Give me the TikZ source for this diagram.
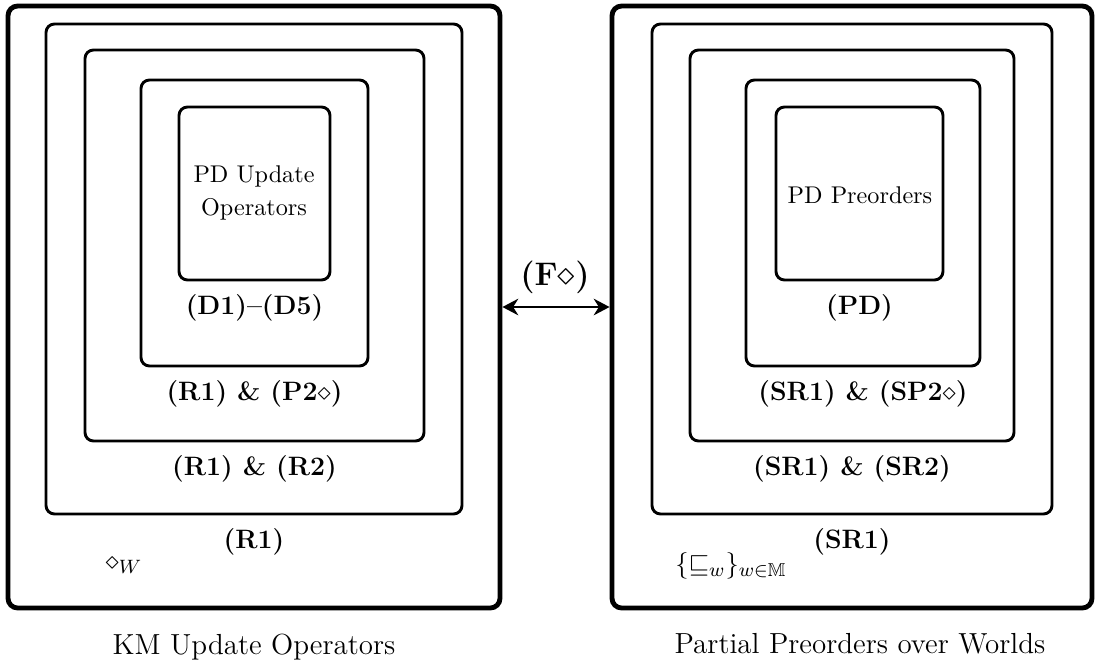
\documentclass[tikz,border=0pt]{standalone}
\usepackage{amsmath,amssymb}
\usetikzlibrary{arrows.meta,fit,positioning}

\begin{document}
\begin{tikzpicture}[x=0.01452cm, y=-0.01452cm, >={Stealth[length=2.3mm,width=2.4mm]},
  outerbox/.style={draw, line width=2pt, rounded corners=4pt, inner sep=0pt},
  innerbox/.style={draw, line width=1.2pt, rounded corners=3.5pt, inner sep=0pt},
  cond/.style={font=\fontsize{11}{13}\selectfont\bfseries},
  title/.style={font=\large, anchor=base}]
  \useasboundingbox (0,0) rectangle (1099,664);
  % KM-Operatoren (links)
  \node[outerbox, fit={(8,6) (500,608)}] (km) {};
  \node[innerbox, fit={(46,24) (462,514)}] (kmtwo) {};
  \node[innerbox, fit={(85,50) (424,441)}] (kmthree) {};
  \node[innerbox, fit={(141,80) (368,366)}] (kmfour) {};
  \node[innerbox, fit={(179,107) (330,280)}] (kmfive) {};
  \node[align=center] (pdop) at (254,193) {PD Update\\[2pt]Operators};
  \node[cond, below=2pt of kmfive] (dlab) {(D1)--(D5)};
  \node[cond, below=2pt of kmfour] (rplab) {(R1) \& (P2$\diamond$)};
  \node[cond, below=2pt of kmthree] (rrlab) {(R1) \& (R2)};
  \node[cond, below=2pt of kmtwo] (rlab) {(R1)};
  \node[font=\fontsize{11}{13}\selectfont] (dw) at (124,566) {$\diamond_W$};
  \node[title] (kmname) at (254,654) {KM Update Operators};
  % Praeordnungen (rechts)
  \node[outerbox, fit={(612,6) (1092,608)}] (pp) {};
  \node[innerbox, fit={(652,24) (1052,514)}] (pptwo) {};
  \node[innerbox, fit={(690,50) (1014,441)}] (ppthree) {};
  \node[innerbox, fit={(746,80) (980,366)}] (ppfour) {};
  \node[innerbox, fit={(776,107) (943,280)}] (ppfive) {};
  \node (pdpre) at (860,195) {PD Preorders};
  \node[cond, below=2pt of ppfive] (pdlab) {(PD)};
  \node[cond, below=2pt of ppfour] (splab) {(SR1) \& (SP2$\diamond$)};
  \node[cond, below=2pt of ppthree] (srlab) {(SR1) \& (SR2)};
  \node[cond, below=2pt of pptwo] (slab) {(SR1)};
  \node[font=\fontsize{11}{13}\selectfont] (sqw) at (731,566) {$\{\sqsubseteq_w\}_{w\in\mathbb{M}}$};
  \node[title] (ppname) at (860,653) {Partial Preorders over Worlds};
  % Verbindung
  \draw[<->, line width=1.2pt] (km.east) -- (pp.west);
  \node[font=\fontsize{13.5}{16}\selectfont\bfseries] (flab) at (555,277) {(F$\diamond$)};
\end{tikzpicture}
\end{document}
